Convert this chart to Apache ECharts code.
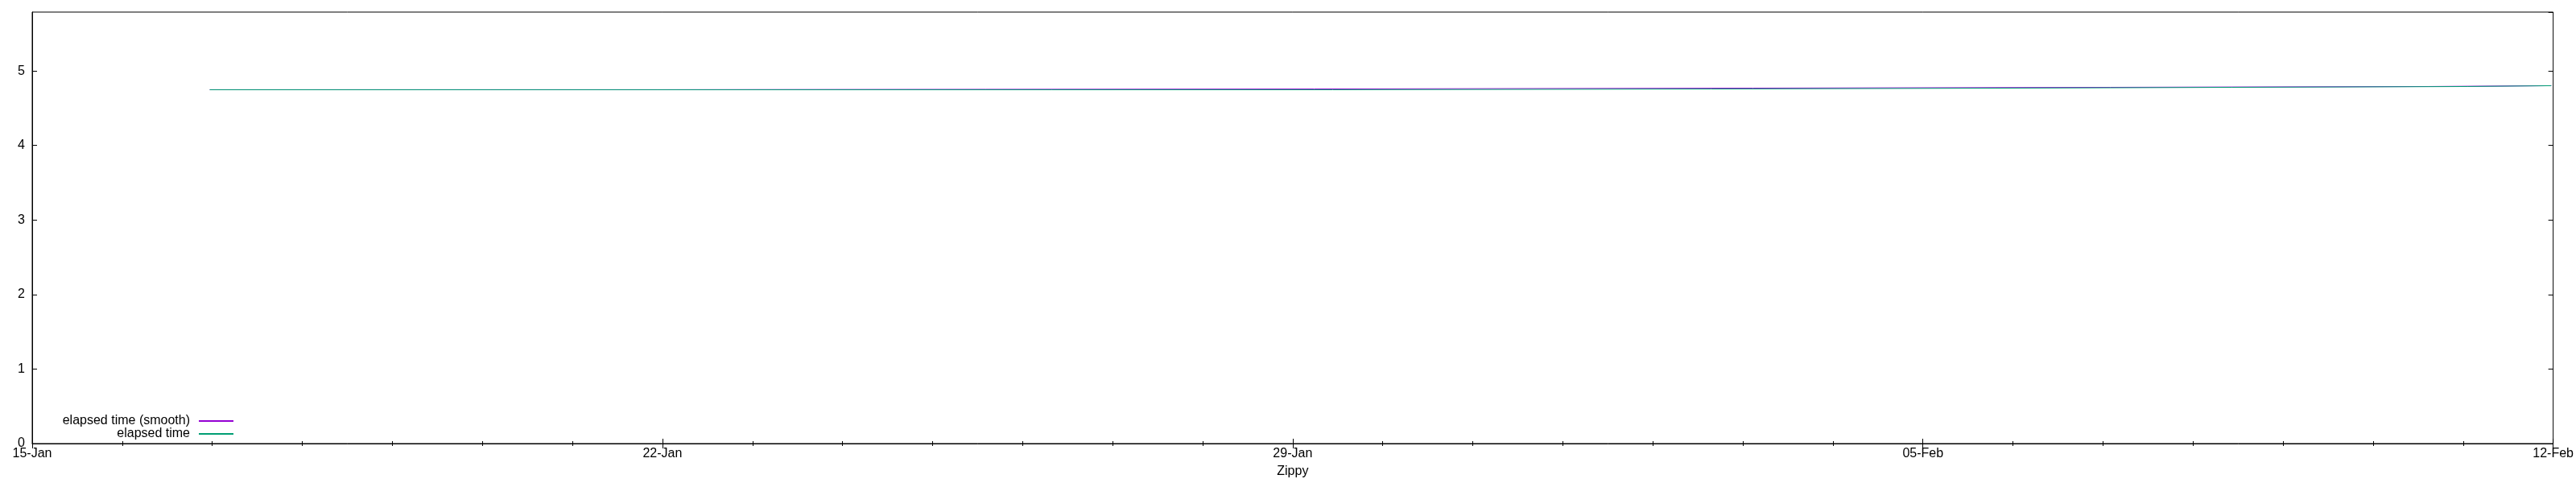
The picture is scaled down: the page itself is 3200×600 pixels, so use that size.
<!DOCTYPE html>
<html>
<head>
<meta charset="utf-8">
<title>Zippy elapsed time</title>
<script src="https://cdn.jsdelivr.net/npm/echarts@6/dist/echarts.min.js"></script>
<style>
    html, body { margin: 0; padding: 0; background: #fff; }
    #chart { width: 3200px; height: 600px; }
</style>
</head>
<body>
<div id="chart"></div>
<script>
// series (step lines, value held until the next point)
const elapsedTimes = ['2015-01-16T23:20', '2015-01-29T10:40', '2015-02-02T15:30', '2015-02-05T19:10',
    '2015-02-08T10:20', '2015-02-11T01:10', '2015-02-11T23:30']
const elapsedValues = [4.748, 4.758, 4.769, 4.780, 4.791, 4.802, 4.802]

const smoothTimes = ['2015-01-16T23:20', '2015-01-21T22:40', '2015-01-29T05:45', '2015-02-03T02:40',
    '2015-02-07T01:55', '2015-02-10T14:40', '2015-02-11T23:30']
const smoothValues = [4.748, 4.758, 4.769, 4.780, 4.791, 4.802, 4.802]

const xStart = '2015-01-15'
const xEnd = '2015-02-12'
const months = ['Jan', 'Feb', 'Mar', 'Apr', 'May', 'Jun', 'Jul', 'Aug', 'Sep', 'Oct', 'Nov', 'Dec']
const DAY = 86400000
const FONT = 'Liberation Sans'

const toMs = s => new Date(s.length === 10 ? s + 'T00:00:00Z' : s + ':00Z').getTime()
const pairs = (ts, vs) => ts.map((t, i) => [toMs(t), vs[i]])

function dateLabel (v) {
    const d = new Date(v)
    const dd = String(d.getUTCDate()).padStart(2, '0')
    return dd + '-' + months[d.getUTCMonth()]
}

const chart = echarts.init(document.getElementById('chart'))

const xCommon = {
    type: 'value',
    min: toMs(xStart),
    max: toMs(xEnd),
    interval: 7 * DAY,
    splitLine: { show: false },
    axisTick: { inside: true, length: 6, lineStyle: { color: '#000' } },
    minorTick: { show: true, splitNumber: 7, length: 3, lineStyle: { color: '#000' } }
}
const yCommon = {
    type: 'value',
    min: 0,
    max: 5.79,
    interval: 1,
    splitLine: { show: false },
    axisTick: { inside: true, length: 6, lineStyle: { color: '#000' } }
}

chart.setOption({
    animation: false,
    backgroundColor: '#fff',
    textStyle: { fontFamily: FONT },
    grid: {
        left: 40,
        right: 28,
        top: 15,
        bottom: 49,
        show: true,
        borderColor: '#000',
        borderWidth: 1
    },
    legend: {
        orient: 'vertical',
        align: 'right',
        right: 2910,
        top: 515,
        padding: 0,
        itemGap: 0,
        itemWidth: 43,
        itemHeight: 2,
        icon: 'rect',
        selectedMode: false,
        textStyle: {
            fontFamily: FONT,
            fontSize: 16,
            color: '#000',
            lineHeight: 15,
            padding: [0, 6, 0, 0]
        },
        data: ['elapsed time (smooth)', 'elapsed time']
    },
    xAxis: [
        Object.assign({}, xCommon, {
            position: 'bottom',
            name: 'Zippy',
            nameLocation: 'middle',
            nameGap: 27,
            nameTextStyle: { fontFamily: FONT, fontSize: 16, color: '#000' },
            axisLine: { show: true, lineStyle: { color: '#000' } },
            axisLabel: {
                formatter: dateLabel,
                margin: 5,
                fontFamily: FONT,
                fontSize: 16,
                color: '#000'
            }
        }),
        Object.assign({}, xCommon, {
            position: 'top',
            axisLine: { show: false },
            axisLabel: { show: false }
        })
    ],
    yAxis: [
        Object.assign({}, yCommon, {
            position: 'left',
            axisLine: { show: true, lineStyle: { color: '#000' } },
            axisLabel: {
                margin: 9,
                showMaxLabel: false,
                fontFamily: FONT,
                fontSize: 16,
                color: '#000'
            }
        }),
        Object.assign({}, yCommon, {
            position: 'right',
            axisLine: { show: false },
            axisLabel: { show: false }
        })
    ],
    series: [
        {
            name: 'elapsed time (smooth)',
            type: 'line',
            step: 'end',
            showSymbol: false,
            color: '#9400d3',
            lineStyle: { color: '#9400d3', width: 1 },
            data: pairs(smoothTimes, smoothValues)
        },
        {
            name: 'elapsed time',
            type: 'line',
            step: 'end',
            showSymbol: false,
            color: '#009e73',
            lineStyle: { color: '#009e73', width: 1 },
            data: pairs(elapsedTimes, elapsedValues)
        }
    ]
})
</script>
</body>
</html>
